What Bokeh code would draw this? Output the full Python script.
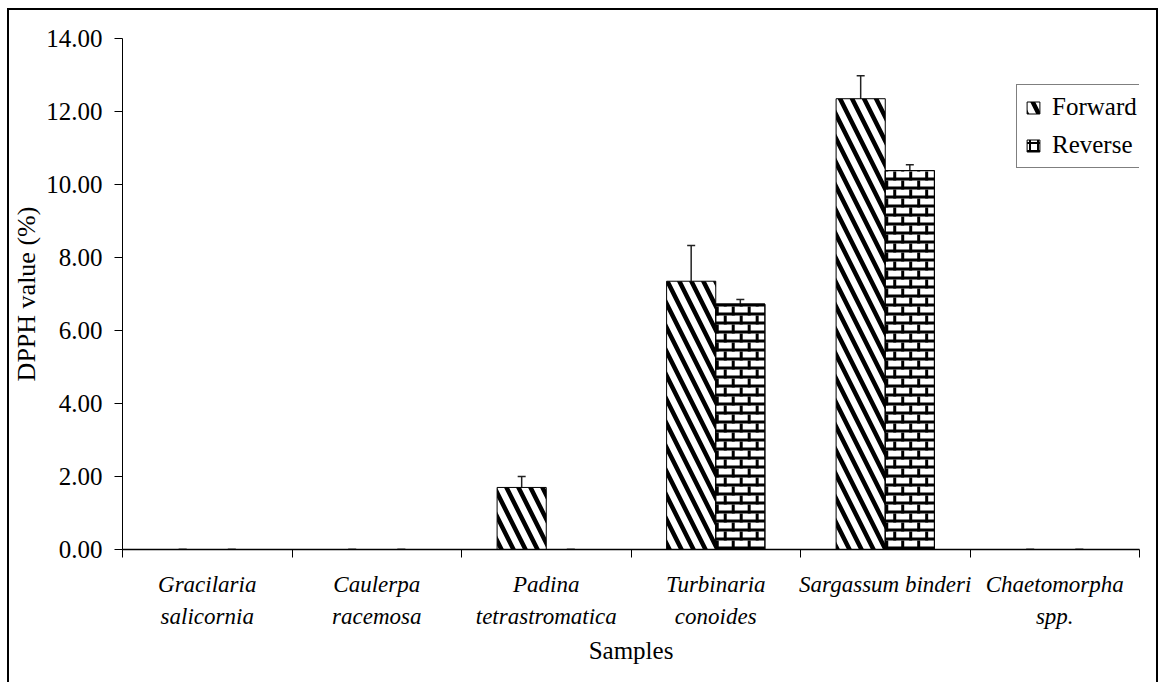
import numpy as np
from bokeh.plotting import figure
from bokeh.models import (ColumnDataSource, FixedTicker, Whisker, TeeHead,
                          PrintfTickFormatter, Range1d, Legend, LegendItem)
from bokeh.embed import file_html
from bokeh.resources import INLINE

# ---------------- data ----------------
categories = ["Gracilaria\nsalicornia", "Caulerpa\nracemosa", "Padina\ntetrastromatica",
              "Turbinaria\nconoides", "Sargassum binderi", "Chaetomorpha\nspp."]
forward = [0.0, 0.0, 1.70, 7.35, 12.35, 0.0]
forward_err = [0.0, 0.0, 0.30, 0.98, 0.63, 0.0]
reverse = [0.0, 0.0, 0.0, 6.72, 10.38, 0.0]
reverse_err = [0.0, 0.0, 0.0, 0.13, 0.16, 0.0]
y_ticks = [0, 2, 4, 6, 8, 10, 12, 14]
series_names = ["Forward", "Reverse"]

FONT = "Liberation Serif"
n = len(categories)
idx = np.arange(n)
bw = 0.29
x_fwd = idx + 0.5 - bw / 2
x_rev = idx + 0.5 + bw / 2
Y_MAX = 14

src_f = ColumnDataSource(dict(x=x_fwd, top=forward,
                              upper=np.array(forward) + np.array(forward_err),
                              lower=np.array(forward) - np.array(forward_err)))
src_r = ColumnDataSource(dict(x=x_rev, top=reverse,
                              upper=np.array(reverse) + np.array(reverse_err),
                              lower=np.array(reverse) - np.array(reverse_err)))

FRAME_W, FRAME_H = 1019, 511
p = figure(width=1151, height=674, output_backend="svg", toolbar_location=None,
           x_range=Range1d(0, n), y_range=Range1d(0, Y_MAX),
           min_border_left=111, min_border_right=21, min_border_top=28,
           min_border_bottom=135)
p.styles = {"margin-left": "7px", "margin-top": "8px",
            "border-left": "2px solid black", "border-top": "2px solid black",
            "border-right": "2px solid black"}
p.outline_line_color = None
p.xgrid.visible = False
p.ygrid.visible = False

# ---- brick pattern for the "Reverse" bars, built from the bar heights ----
ux = n / FRAME_W          # data units per pixel (x)
uy = Y_MAX / FRAME_H      # data units per pixel (y)
ROW_PX, BRICK_PX, MORTAR_PX = 9, 16, 3
hx0, hx1, hy = [], [], []
vx, vy0, vy1 = [], [], []
for xc, v in zip(x_rev, reverse):
    if v <= 0:
        continue
    xl, xr = xc - bw / 2, xc + bw / 2
    k = 0
    while k * ROW_PX * uy < v:
        yb = k * ROW_PX * uy
        yt = min(yb + ROW_PX * uy, v)
        ym = yb + MORTAR_PX / 2 * uy
        if ym < v:
            hx0.append(xl); hx1.append(xr); hy.append(ym)
        off = (k % 2) * BRICK_PX / 2 * ux
        xx = xl + off + MORTAR_PX / 2 * ux
        while xx < xr - 0.5 * ux:
            vx.append(xx); vy0.append(yb); vy1.append(yt)
            xx += BRICK_PX * ux
        k += 1

fwd_r = p.vbar(x="x", top="top", width=bw, source=src_f, fill_color="white",
               line_color="black", line_width=1,
               hatch_pattern="left_diagonal_line", hatch_color="black",
               hatch_scale=24, hatch_weight=4.5)
rev_r = p.vbar(x="x", top="top", width=bw, source=src_r, fill_color="white",
               line_color="black", line_width=1)
p.segment(x0=hx0, x1=hx1, y0=hy, y1=hy, line_color="black",
          line_width=MORTAR_PX, line_cap="butt")
p.segment(x0=vx, x1=vx, y0=vy0, y1=vy1, line_color="black",
          line_width=MORTAR_PX, line_cap="butt")
p.vbar(x="x", top="top", width=bw, source=src_r, fill_color=None,
       line_color="black", line_width=1)

# zero-width companion renderer: only shows a brick-like hatch in the legend swatch
rev_leg = p.vbar(x="x", top="top", width=0, source=src_r, fill_color=None,
                 line_color=None, hatch_pattern="cross", hatch_color="black",
                 hatch_scale=8, hatch_weight=2)

for src in (src_f, src_r):
    w = Whisker(base="x", upper="upper", lower="lower", source=src,
                line_color="#222222", line_width=1.5,
                upper_head=TeeHead(size=8, line_color="#222222", line_width=1.5),
                lower_head=TeeHead(size=8, line_color="#222222", line_width=1.5))
    p.add_layout(w)

# x axis: labels at centres, ticks at boundaries
xa = p.xaxis[0]
xa.ticker = FixedTicker(ticks=list(idx + 0.5), minor_ticks=list(range(n + 1)))
xa.major_label_overrides = {float(i + 0.5): c for i, c in enumerate(categories)}
xa.major_tick_out = 0
xa.major_tick_in = 0
xa.minor_tick_out = 8
xa.minor_tick_in = 0
xa.minor_tick_line_color = "black"
xa.axis_line_color = "black"
xa.axis_line_width = 1.5
xa.major_label_text_font = FONT
xa.major_label_text_font_style = "italic"
xa.major_label_text_font_size = "23px"
xa.major_label_text_color = "black"
xa.major_label_text_line_height = 1.3
xa.major_label_standoff = 14
xa.axis_label = "Samples"
xa.axis_label_text_font = FONT
xa.axis_label_text_font_style = "normal"
xa.axis_label_text_font_size = "25px"
xa.axis_label_text_color = "black"
xa.axis_label_standoff = 5

ya = p.yaxis[0]
ya.ticker = FixedTicker(ticks=y_ticks, minor_ticks=[])
ya.formatter = PrintfTickFormatter(format="%.2f")
ya.major_tick_out = 8
ya.major_tick_in = 0
ya.major_tick_line_color = "black"
ya.axis_line_color = "black"
ya.axis_line_width = 1
ya.major_label_text_font = FONT
ya.major_label_text_font_size = "25px"
ya.major_label_text_color = "black"
ya.major_label_standoff = 12
ya.axis_label = "DPPH value (%)"
ya.axis_label_text_font = FONT
ya.axis_label_text_font_style = "normal"
ya.axis_label_text_font_size = "26px"
ya.axis_label_text_color = "black"
ya.axis_label_standoff = 2

lg = Legend(items=[LegendItem(label=series_names[0], renderers=[fwd_r]),
                   LegendItem(label=series_names[1], renderers=[rev_r, rev_leg])])
p.add_layout(lg, "center")
lg.location = (894, 381)
lg.border_line_color = "black"
lg.border_line_width = 1
lg.background_fill_color = "white"
lg.label_text_font = FONT
lg.label_text_font_size = "25px"
lg.label_text_color = "black"
lg.glyph_width = 16
lg.glyph_height = 15
lg.label_height = 28
lg.label_standoff = 11
lg.spacing = 10
lg.padding = 8
lg.margin = 0

open("out.html", "w").write(file_html(p, INLINE))
